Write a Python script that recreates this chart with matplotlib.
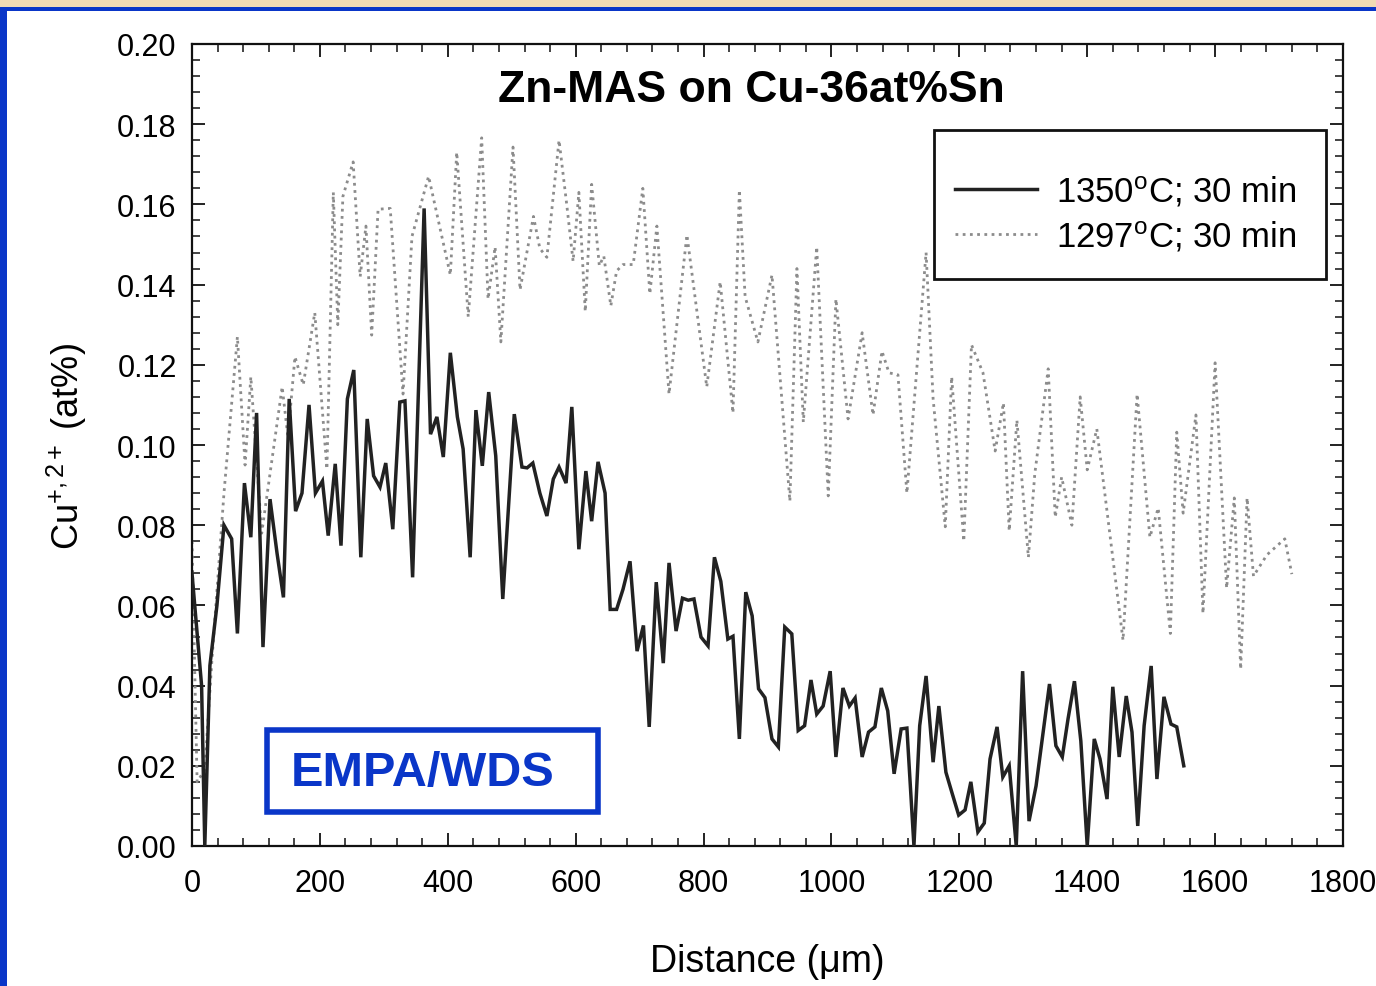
import matplotlib
matplotlib.use("Agg")
import matplotlib.pyplot as plt
from matplotlib.patches import Rectangle
from matplotlib.ticker import MultipleLocator, FormatStrFormatter

plt.rcParams['font.family'] = ['Liberation Sans', 'DejaVu Sans']
plt.rcParams['mathtext.fontset'] = 'custom'
plt.rcParams['mathtext.rm'] = 'Liberation Sans'
plt.rcParams['mathtext.it'] = 'Liberation Sans:italic'
plt.rcParams['mathtext.bf'] = 'Liberation Sans:bold'

# EMPA/WDS line scan, 1350 C for 30 min
dist_1350 = [0, 15, 20, 28, 39, 50, 62, 71, 82, 92, 101, 111, 122, 133, 143, 152, 162, 172,
             183, 193, 204, 213, 224, 233, 243, 253, 264, 274, 284, 294, 303, 314, 325, 333,
             345, 363, 373, 383, 393, 404, 415, 424, 435, 444, 454, 464, 475, 486, 504, 516,
             524, 533, 544, 555, 565, 574, 585, 594, 605, 616, 625, 635, 646, 654, 664, 674,
             685, 696, 706, 715, 726, 737, 746, 757, 767, 776, 785, 796, 807, 817, 827, 838,
             846, 856, 866, 876, 886, 896, 907, 917, 927, 938, 948, 958, 968, 977, 987, 998,
             1007, 1018, 1028, 1037, 1048, 1058, 1068, 1078, 1088, 1098, 1109, 1118, 1129,
             1138, 1148, 1159, 1168, 1179, 1189, 1199, 1209, 1218, 1229, 1239, 1248, 1259,
             1268, 1278, 1289, 1299, 1309, 1320, 1331, 1341, 1351, 1361, 1370, 1380, 1390,
             1400, 1411, 1420, 1431, 1440, 1450, 1461, 1470, 1479, 1489, 1500, 1509, 1520,
             1531, 1540, 1551]
cu_1350 = [0.068, 0.040, 0.0, 0.045, 0.060, 0.080, 0.0766, 0.053, 0.0905, 0.077, 0.108,
           0.0496, 0.0865, 0.073, 0.062, 0.1115, 0.0835, 0.088, 0.110, 0.088, 0.091, 0.0774,
           0.0953, 0.0749, 0.1115, 0.1187, 0.072, 0.1065, 0.0923, 0.0895, 0.0955, 0.079,
           0.1107, 0.111, 0.067, 0.159, 0.1027, 0.107, 0.097, 0.123, 0.107, 0.099, 0.072,
           0.1087, 0.0948, 0.1132, 0.0973, 0.0616, 0.1077, 0.0945, 0.0943, 0.0955, 0.088,
           0.0823, 0.0915, 0.0945, 0.0905, 0.1095, 0.074, 0.0935, 0.081, 0.0958, 0.088,
           0.059, 0.059, 0.064, 0.071, 0.0486, 0.055, 0.0297, 0.0658, 0.0456, 0.0706,
           0.0536, 0.0618, 0.0613, 0.0616, 0.0521, 0.0499, 0.072, 0.066, 0.0516, 0.0523,
           0.0267, 0.0633, 0.0574, 0.0392, 0.037, 0.0267, 0.0247, 0.0546, 0.0529, 0.0288,
           0.030, 0.0414, 0.0329, 0.0349, 0.0436, 0.0222, 0.0394, 0.0349, 0.0369, 0.0222,
           0.0284, 0.0297, 0.0394, 0.0337, 0.018, 0.0292, 0.0294, 0.0, 0.030, 0.0424,
           0.0209, 0.0349, 0.0184, 0.013, 0.0077, 0.009, 0.016, 0.0035, 0.0057, 0.0217,
           0.0297, 0.0172, 0.020, 0.0, 0.0436, 0.0062, 0.015, 0.0284, 0.0404, 0.025,
           0.0222, 0.0317, 0.0411, 0.0262, 0.0, 0.0267, 0.0217, 0.0117, 0.0397, 0.0222,
           0.0374, 0.0284, 0.005, 0.030, 0.0449, 0.0167, 0.0372, 0.0304, 0.0297, 0.020]

# EMPA/WDS line scan, 1297 C for 30 min
dist_1297 = [0, 8, 20, 31, 50, 71, 83, 92, 109, 141, 150, 161, 174, 192, 211, 221, 228, 236,
             252, 263, 272, 281, 291, 310, 330, 344, 370, 404, 414, 432, 453, 463, 474, 483,
             502, 513, 534, 544, 555, 574, 586, 596, 605, 615, 625, 637, 644, 655, 664, 674,
             690, 705, 716, 727, 746, 774, 805, 826, 846, 856, 865, 885, 907, 935, 946, 956,
             977, 995, 1007, 1026, 1048, 1065, 1079, 1090, 1104, 1118, 1148, 1159, 1178,
             1188, 1207, 1219, 1237, 1256, 1269, 1278, 1290, 1308, 1318, 1339, 1350, 1360,
             1376, 1389, 1400, 1415, 1456, 1478, 1498, 1511, 1530, 1540, 1550, 1570, 1581,
             1600, 1618, 1630, 1640, 1650, 1660, 1681, 1709, 1720]
cu_1297 = [0.076, 0.016, 0.019, 0.046, 0.088, 0.127, 0.095, 0.117, 0.078, 0.1145, 0.102,
           0.122, 0.115, 0.133, 0.094, 0.163, 0.130, 0.162, 0.1706, 0.142, 0.1546, 0.1274,
           0.1588, 0.159, 0.1127, 0.152, 0.167, 0.1424, 0.173, 0.132, 0.1766, 0.1364,
           0.1494, 0.1257, 0.1743, 0.1387, 0.157, 0.149, 0.1468, 0.176, 0.160, 0.1458,
           0.163, 0.1333, 0.165, 0.1447, 0.1471, 0.1347, 0.1434, 0.145, 0.145, 0.164,
           0.1377, 0.1546, 0.1127, 0.1524, 0.1145, 0.1407, 0.108, 0.1636, 0.137, 0.1257,
           0.1424, 0.086, 0.144, 0.1057, 0.1494, 0.0873, 0.1364, 0.1065, 0.128, 0.1075,
           0.1234, 0.118, 0.1175, 0.088, 0.148, 0.1115, 0.0796, 0.117, 0.076, 0.125, 0.118,
           0.0985, 0.1105, 0.0786, 0.1062, 0.072, 0.0928, 0.119, 0.082, 0.092, 0.080,
           0.112, 0.0938, 0.104, 0.0513, 0.1127, 0.077, 0.0843, 0.053, 0.1032, 0.083,
           0.1075, 0.058, 0.1205, 0.0643, 0.0868, 0.0441, 0.0868, 0.0673, 0.0726, 0.0766,
           0.0678]

labels = ['1350$^{\\mathrm{o}}$C; 30 min', '1297$^{\\mathrm{o}}$C; 30 min']
title = 'Zn-MAS on Cu-36at%Sn'
method = 'EMPA/WDS'

W, H = 1376, 987
fig = plt.figure(figsize=(W / 100, H / 100), dpi=100)
fig.patch.set_facecolor('white')

# slide frame: beige strip on top, blue rules on top and left
fig.add_artist(Rectangle((0, 1 - 8 / H), 1, 8 / H, transform=fig.transFigure,
                         facecolor='#f2dbb4', edgecolor='none'))
fig.add_artist(Rectangle((0, 1 - 12 / H), 1, 4.5 / H, transform=fig.transFigure,
                         facecolor='#0a36c8', edgecolor='none'))
fig.add_artist(Rectangle((0, 0), 7 / W, 1 - 8 / H, transform=fig.transFigure,
                         facecolor='#0a36c8', edgecolor='none'))

ax = fig.add_axes([192 / W, 1 - 847 / H, (1343 - 192) / W, (847 - 45) / H])


def ax_xy(px, py):
    """Pixel position on the canvas -> axes fraction."""
    return (px - 192) / 1151, (847 - py) / 802


ax.plot(dist_1350, cu_1350, color='#222222', lw=2.5, solid_joinstyle='miter',
        label=labels[0], zorder=3)
ax.plot(dist_1297, cu_1297, color='#8c8c8c', lw=2.0, linestyle=(0, (1, 1.6)),
        label=labels[1], zorder=2)

ax.set_xlim(0, 1800)
ax.set_ylim(0, 0.20)
ax.xaxis.set_major_locator(MultipleLocator(200))
ax.xaxis.set_minor_locator(MultipleLocator(40))
ax.yaxis.set_major_locator(MultipleLocator(0.02))
ax.yaxis.set_minor_locator(MultipleLocator(0.004))
ax.yaxis.set_major_formatter(FormatStrFormatter('%.2f'))

for s in ax.spines.values():
    s.set_linewidth(1.6)
    s.set_color('#111111')
ax.tick_params(which='both', direction='in', top=True, right=True, color='#111111')
ax.tick_params(which='major', length=9.5, width=1.3, labelsize=22)
ax.tick_params(which='minor', length=5.5, width=1.1)
ax.tick_params(axis='x', which='major', pad=16)
ax.tick_params(axis='y', which='major', pad=11)

ax.set_xlabel('Distance (\u03bcm)', fontsize=27, labelpad=32)
fig.text(67 / W, 1 - 447 / H, 'Cu$^{+,2+}$ (at%)', rotation=90, fontsize=26,
         ha='center', va='center')

ax.text(*ax_xy(751, 90), title, transform=ax.transAxes,
        fontsize=32, fontweight='bold', ha='center', va='center')

# legend entries without frame, the box is drawn separately
leg = ax.legend(loc='upper left', bbox_to_anchor=ax_xy(955, 175),
                fontsize=25, frameon=False, handlelength=2.35,
                handletextpad=0.56, borderpad=0.0, labelspacing=0.3, borderaxespad=0)
x0, y0 = ax_xy(934, 280)
x1, y1 = ax_xy(1326, 131)
ax.add_patch(Rectangle((x0, y0), x1 - x0, y1 - y0, transform=ax.transAxes,
                       facecolor='white', edgecolor='#111111', linewidth=2.0, zorder=4))
leg.set_zorder(5)

# measurement technique box
ax.text(*ax_xy(423, 774), method, transform=ax.transAxes, fontsize=35,
        fontweight='bold', color='#0a36c8', ha='center', va='center')
fig.add_artist(Rectangle((267 / W, 1 - 813 / H), (598 - 267) / W, (813 - 731) / H,
                         transform=fig.transFigure, facecolor='none',
                         edgecolor='#0a36c8', linewidth=4))

fig.savefig('out.png', dpi=100)
